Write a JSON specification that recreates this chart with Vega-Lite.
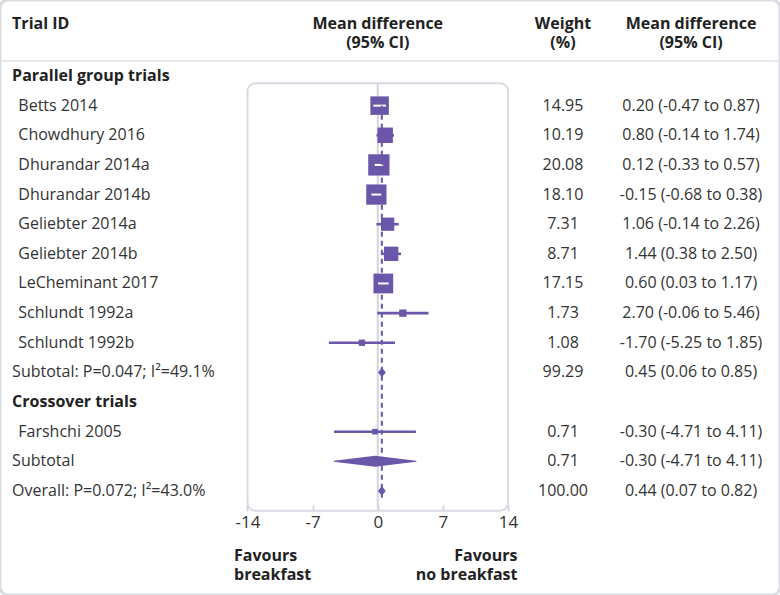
{
  "$schema": "https://vega.github.io/schema/vega-lite/v6.json",
  "width": 780,
  "height": 595,
  "autosize": {"type": "none"},
  "padding": 0,
  "background": "white",
  "config": {
    "view": {"stroke": "#d9dce1", "strokeWidth": 3, "cornerRadius": 8},
    "text": {"font": "Open Sans", "fontSize": 16, "color": "#333333"}
  },
  "resolve": {"axis": {"x": "independent", "y": "independent"}},
  "datasets": {
    "trials": [
      {"name": "Parallel group trials", "kind": "group", "r": 0},
      {"name": "Betts 2014", "kind": "study", "r": 1, "md": 0.20, "lo": -0.47, "hi": 0.87, "w": 14.95, "ci": "0.20 (-0.47 to 0.87)"},
      {"name": "Chowdhury 2016", "kind": "study", "r": 2, "md": 0.80, "lo": -0.14, "hi": 1.74, "w": 10.19, "ci": "0.80 (-0.14 to 1.74)"},
      {"name": "Dhurandar 2014a", "kind": "study", "r": 3, "md": 0.12, "lo": -0.33, "hi": 0.57, "w": 20.08, "ci": "0.12 (-0.33 to 0.57)"},
      {"name": "Dhurandar 2014b", "kind": "study", "r": 4, "md": -0.15, "lo": -0.68, "hi": 0.38, "w": 18.10, "ci": "-0.15 (-0.68 to 0.38)"},
      {"name": "Geliebter 2014a", "kind": "study", "r": 5, "md": 1.06, "lo": -0.14, "hi": 2.26, "w": 7.31, "ci": "1.06 (-0.14 to 2.26)"},
      {"name": "Geliebter 2014b", "kind": "study", "r": 6, "md": 1.44, "lo": 0.38, "hi": 2.50, "w": 8.71, "ci": "1.44 (0.38 to 2.50)"},
      {"name": "LeCheminant 2017", "kind": "study", "r": 7, "md": 0.60, "lo": 0.03, "hi": 1.17, "w": 17.15, "ci": "0.60 (0.03 to 1.17)"},
      {"name": "Schlundt 1992a", "kind": "study", "r": 8, "md": 2.70, "lo": -0.06, "hi": 5.46, "w": 1.73, "ci": "2.70 (-0.06 to 5.46)"},
      {"name": "Schlundt 1992b", "kind": "study", "r": 9, "md": -1.70, "lo": -5.25, "hi": 1.85, "w": 1.08, "ci": "-1.70 (-5.25 to 1.85)"},
      {"name": "Subtotal: P=0.047; I²=49.1%", "kind": "pooled", "r": 10, "md": 0.45, "lo": 0.06, "hi": 0.85, "w": 99.29, "ci": "0.45 (0.06 to 0.85)"},
      {"name": "Crossover trials", "kind": "group", "r": 11},
      {"name": "Farshchi 2005", "kind": "study", "r": 12, "md": -0.30, "lo": -4.71, "hi": 4.11, "w": 0.71, "ci": "-0.30 (-4.71 to 4.11)"},
      {"name": "Subtotal", "kind": "pooled", "r": 13, "md": -0.30, "lo": -4.71, "hi": 4.11, "w": 0.71, "ci": "-0.30 (-4.71 to 4.11)"},
      {"name": "Overall: P=0.072; I²=43.0%", "kind": "overall", "r": 14, "md": 0.44, "lo": 0.07, "hi": 0.82, "w": 100.00, "ci": "0.44 (0.07 to 0.82)"}
    ]
  },
  "data": {"name": "trials"},
  "layer": [
    {
      "data": {"values": [{}]},
      "mark": {"type": "rule", "color": "#dfe1e6", "strokeWidth": 1.5},
      "encoding": {
        "x": {"datum": -40.601, "type": "quantitative", "scale": {"domain": [-40.601, 43.234], "nice": false, "zero": false}, "axis": null},
        "x2": {"datum": 43.234},
        "y": {"datum": -0.506, "type": "quantitative", "scale": {"domain": [-2.564, 17.51], "reverse": true, "nice": false, "zero": false}, "axis": null}
      }
    },
    {
      "data": {"values": [{}]},
      "mark": {"type": "rect", "fill": "transparent", "stroke": "#d9dbe2", "strokeWidth": 2, "cornerRadius": 8},
      "encoding": {
        "x": {"datum": -14, "type": "quantitative", "scale": {"domain": [-40.601, 43.234], "nice": false, "zero": false}, "axis": null},
        "x2": {"datum": 14},
        "y": {"datum": 0.246, "type": "quantitative", "scale": {"domain": [-2.564, 17.51], "reverse": true, "nice": false, "zero": false}, "axis": null},
        "y2": {"datum": 14.666}
      }
    },
    {
      "data": {"values": [{}]},
      "mark": {"type": "rule", "color": "#d3d6de", "strokeWidth": 2},
      "encoding": {
        "x": {"datum": 0, "type": "quantitative", "scale": {"domain": [-40.601, 43.234], "nice": false, "zero": false}, "axis": null},
        "y": {"datum": 0.246, "type": "quantitative", "scale": {"domain": [-2.564, 17.51], "reverse": true, "nice": false, "zero": false}, "axis": null},
        "y2": {"datum": 14.666}
      }
    },
    {
      "transform": [{"filter": "datum.kind == 'study'"}],
      "mark": {"type": "rule", "color": "#6b57a9", "strokeWidth": 2.6},
      "encoding": {
        "x": {"field": "lo", "type": "quantitative", "scale": {"domain": [-40.601, 43.234], "nice": false, "zero": false},
          "axis": {"values": [-14, -7, 0, 7, 14], "labelExpr": "'' + datum.value", "title": null, "grid": false, "domain": false, "ticks": true, "tickSize": -6, "tickColor": "#d3d6de", "tickWidth": 2, "labelFontSize": 17, "labelFont": "Open Sans", "labelColor": "#333333", "labelPadding": 10, "labelFlush": false, "offset": -84.3, "orient": "bottom", "zindex": 1}},
        "x2": {"field": "hi"},
        "y": {"field": "r", "type": "quantitative", "scale": {"domain": [-2.564, 17.51], "reverse": true, "nice": false, "zero": false}, "axis": null}
      }
    },
    {
      "transform": [{"filter": "datum.kind == 'study'"}],
      "mark": {"type": "point", "shape": "square", "filled": true, "opacity": 1, "color": "#6b57a9"},
      "encoding": {
        "x": {"field": "md", "type": "quantitative", "scale": {"domain": [-40.601, 43.234], "nice": false, "zero": false}, "axis": null},
        "y": {"field": "r", "type": "quantitative", "scale": {"domain": [-2.564, 17.51], "reverse": true, "nice": false, "zero": false}, "axis": null},
        "size": {"field": "w", "type": "quantitative", "scale": {"domain": [0.71, 20.08], "range": [32, 454], "zero": false}, "legend": null}
      }
    },
    {
      "transform": [{"filter": "datum.kind == 'study' && datum.w > 14"}],
      "mark": {"type": "rule", "color": "white", "strokeWidth": 2},
      "encoding": {
        "x": {"field": "lo", "type": "quantitative", "scale": {"domain": [-40.601, 43.234], "nice": false, "zero": false}, "axis": null},
        "x2": {"field": "hi"},
        "y": {"field": "r", "type": "quantitative", "scale": {"domain": [-2.564, 17.51], "reverse": true, "nice": false, "zero": false}, "axis": null}
      }
    },
    {
      "transform": [{"filter": "datum.kind == 'overall'"}],
      "mark": {"type": "rule", "color": "#6b57a9", "strokeWidth": 2, "strokeDash": [5, 4]},
      "encoding": {
        "x": {"field": "md", "type": "quantitative", "scale": {"domain": [-40.601, 43.234], "nice": false, "zero": false}, "axis": null},
        "y": {"datum": 1, "type": "quantitative", "scale": {"domain": [-2.564, 17.51], "reverse": true, "nice": false, "zero": false}, "axis": null},
        "y2": {"datum": 14.3}
      }
    },
    {
      "transform": [
        {"filter": "(datum.kind == 'pooled' || datum.kind == 'overall') && datum.hi - datum.lo >= 2"},
        {"fold": ["lo", "md", "hi"], "as": ["k", "v"]}
      ],
      "mark": {"type": "trail", "color": "#6b57a9"},
      "encoding": {
        "x": {"field": "v", "type": "quantitative", "scale": {"domain": [-40.601, 43.234], "nice": false, "zero": false}, "axis": null},
        "y": {"field": "r", "type": "quantitative", "scale": {"domain": [-2.564, 17.51], "reverse": true, "nice": false, "zero": false}, "axis": null},
        "detail": {"field": "name", "type": "nominal"},
        "size": {"condition": {"test": "datum.k == 'md'", "value": 11}, "value": 0}
      }
    },
    {
      "transform": [{"filter": "(datum.kind == 'pooled' || datum.kind == 'overall') && datum.hi - datum.lo < 2"}],
      "mark": {"type": "point", "shape": "M-0.8,0L0,-1L0.8,0L0,1Z", "filled": true, "opacity": 1, "size": 95, "color": "#6b57a9"},
      "encoding": {
        "x": {"field": "md", "type": "quantitative", "scale": {"domain": [-40.601, 43.234], "nice": false, "zero": false}, "axis": null},
        "y": {"field": "r", "type": "quantitative", "scale": {"domain": [-2.564, 17.51], "reverse": true, "nice": false, "zero": false}, "axis": null}
      }
    },
    {
      "transform": [{"filter": "datum.kind == 'group'"}],
      "mark": {"type": "text", "align": "left", "baseline": "middle", "fontWeight": "bold", "color": "#222222"},
      "encoding": {
        "x": {"datum": -39.3, "type": "quantitative", "scale": {"domain": [-40.601, 43.234], "nice": false, "zero": false}, "axis": null},
        "y": {"field": "r", "type": "quantitative", "scale": {"domain": [-2.564, 17.51], "reverse": true, "nice": false, "zero": false}, "axis": null},
        "text": {"field": "name"}
      }
    },
    {
      "transform": [{"filter": "datum.kind == 'pooled' || datum.kind == 'overall'"}],
      "mark": {"type": "text", "align": "left", "baseline": "middle"},
      "encoding": {
        "x": {"datum": -39.3, "type": "quantitative", "scale": {"domain": [-40.601, 43.234], "nice": false, "zero": false}, "axis": null},
        "y": {"field": "r", "type": "quantitative", "scale": {"domain": [-2.564, 17.51], "reverse": true, "nice": false, "zero": false}, "axis": null},
        "text": {"field": "name"}
      }
    },
    {
      "transform": [{"filter": "datum.kind == 'study'"}],
      "mark": {"type": "text", "align": "left", "baseline": "middle"},
      "encoding": {
        "x": {"datum": -38.633, "type": "quantitative", "scale": {"domain": [-40.601, 43.234], "nice": false, "zero": false}, "axis": null},
        "y": {"field": "r", "type": "quantitative", "scale": {"domain": [-2.564, 17.51], "reverse": true, "nice": false, "zero": false}, "axis": null},
        "text": {"field": "name"}
      }
    },
    {
      "transform": [{"filter": "datum.kind != 'group'"}],
      "mark": {"type": "text", "align": "center", "baseline": "middle"},
      "encoding": {
        "x": {"datum": 19.91, "type": "quantitative", "scale": {"domain": [-40.601, 43.234], "nice": false, "zero": false}, "axis": null},
        "y": {"field": "r", "type": "quantitative", "scale": {"domain": [-2.564, 17.51], "reverse": true, "nice": false, "zero": false}, "axis": null},
        "text": {"field": "w", "type": "quantitative", "format": ".2f"}
      }
    },
    {
      "transform": [{"filter": "datum.kind != 'group'"}],
      "mark": {"type": "text", "align": "center", "baseline": "middle"},
      "encoding": {
        "x": {"datum": 33.67, "type": "quantitative", "scale": {"domain": [-40.601, 43.234], "nice": false, "zero": false}, "axis": null},
        "y": {"field": "r", "type": "quantitative", "scale": {"domain": [-2.564, 17.51], "reverse": true, "nice": false, "zero": false}, "axis": null},
        "text": {"field": "ci"}
      }
    },
    {
      "data": {"values": [{}]},
      "mark": {"type": "text", "align": "left", "baseline": "middle", "fontWeight": "bold", "color": "#222222"},
      "encoding": {
        "x": {"datum": -39.3, "type": "quantitative", "scale": {"domain": [-40.601, 43.234], "nice": false, "zero": false}, "axis": null},
        "y": {"datum": -1.74, "type": "quantitative", "scale": {"domain": [-2.564, 17.51], "reverse": true, "nice": false, "zero": false}, "axis": null},
        "text": {"value": "Trial ID"}
      }
    },
    {
      "data": {"values": [{}]},
      "mark": {"type": "text", "align": "center", "baseline": "middle", "fontWeight": "bold", "color": "#222222"},
      "encoding": {
        "x": {"datum": 0, "type": "quantitative", "scale": {"domain": [-40.601, 43.234], "nice": false, "zero": false}, "axis": null},
        "y": {"datum": -1.76, "type": "quantitative", "scale": {"domain": [-2.564, 17.51], "reverse": true, "nice": false, "zero": false}, "axis": null},
        "text": {"value": "Mean difference"}
      }
    },
    {
      "data": {"values": [{}]},
      "mark": {"type": "text", "align": "center", "baseline": "middle", "fontWeight": "bold", "color": "#222222"},
      "encoding": {
        "x": {"datum": 0, "type": "quantitative", "scale": {"domain": [-40.601, 43.234], "nice": false, "zero": false}, "axis": null},
        "y": {"datum": -1.112, "type": "quantitative", "scale": {"domain": [-2.564, 17.51], "reverse": true, "nice": false, "zero": false}, "axis": null},
        "text": {"value": "(95% CI)"}
      }
    },
    {
      "data": {"values": [{}]},
      "mark": {"type": "text", "align": "center", "baseline": "middle", "fontWeight": "bold", "color": "#222222"},
      "encoding": {
        "x": {"datum": 19.91, "type": "quantitative", "scale": {"domain": [-40.601, 43.234], "nice": false, "zero": false}, "axis": null},
        "y": {"datum": -1.76, "type": "quantitative", "scale": {"domain": [-2.564, 17.51], "reverse": true, "nice": false, "zero": false}, "axis": null},
        "text": {"value": "Weight"}
      }
    },
    {
      "data": {"values": [{}]},
      "mark": {"type": "text", "align": "center", "baseline": "middle", "fontWeight": "bold", "color": "#222222"},
      "encoding": {
        "x": {"datum": 19.91, "type": "quantitative", "scale": {"domain": [-40.601, 43.234], "nice": false, "zero": false}, "axis": null},
        "y": {"datum": -1.112, "type": "quantitative", "scale": {"domain": [-2.564, 17.51], "reverse": true, "nice": false, "zero": false}, "axis": null},
        "text": {"value": "(%)"}
      }
    },
    {
      "data": {"values": [{}]},
      "mark": {"type": "text", "align": "center", "baseline": "middle", "fontWeight": "bold", "color": "#222222"},
      "encoding": {
        "x": {"datum": 33.67, "type": "quantitative", "scale": {"domain": [-40.601, 43.234], "nice": false, "zero": false}, "axis": null},
        "y": {"datum": -1.76, "type": "quantitative", "scale": {"domain": [-2.564, 17.51], "reverse": true, "nice": false, "zero": false}, "axis": null},
        "text": {"value": "Mean difference"}
      }
    },
    {
      "data": {"values": [{}]},
      "mark": {"type": "text", "align": "center", "baseline": "middle", "fontWeight": "bold", "color": "#222222"},
      "encoding": {
        "x": {"datum": 33.67, "type": "quantitative", "scale": {"domain": [-40.601, 43.234], "nice": false, "zero": false}, "axis": null},
        "y": {"datum": -1.112, "type": "quantitative", "scale": {"domain": [-2.564, 17.51], "reverse": true, "nice": false, "zero": false}, "axis": null},
        "text": {"value": "(95% CI)"}
      }
    },
    {
      "data": {"values": [{}]},
      "mark": {"type": "text", "align": "left", "baseline": "middle", "fontWeight": "bold", "color": "#222222"},
      "encoding": {
        "x": {"datum": -15.45, "type": "quantitative", "scale": {"domain": [-40.601, 43.234], "nice": false, "zero": false}, "axis": null},
        "y": {"datum": 16.2, "type": "quantitative", "scale": {"domain": [-2.564, 17.51], "reverse": true, "nice": false, "zero": false}, "axis": null},
        "text": {"value": "Favours"}
      }
    },
    {
      "data": {"values": [{}]},
      "mark": {"type": "text", "align": "left", "baseline": "middle", "fontWeight": "bold", "color": "#222222"},
      "encoding": {
        "x": {"datum": -15.45, "type": "quantitative", "scale": {"domain": [-40.601, 43.234], "nice": false, "zero": false}, "axis": null},
        "y": {"datum": 16.841, "type": "quantitative", "scale": {"domain": [-2.564, 17.51], "reverse": true, "nice": false, "zero": false}, "axis": null},
        "text": {"value": "breakfast"}
      }
    },
    {
      "data": {"values": [{}]},
      "mark": {"type": "text", "align": "right", "baseline": "middle", "fontWeight": "bold", "color": "#222222"},
      "encoding": {
        "x": {"datum": 15.02, "type": "quantitative", "scale": {"domain": [-40.601, 43.234], "nice": false, "zero": false}, "axis": null},
        "y": {"datum": 16.2, "type": "quantitative", "scale": {"domain": [-2.564, 17.51], "reverse": true, "nice": false, "zero": false}, "axis": null},
        "text": {"value": "Favours"}
      }
    },
    {
      "data": {"values": [{}]},
      "mark": {"type": "text", "align": "right", "baseline": "middle", "fontWeight": "bold", "color": "#222222"},
      "encoding": {
        "x": {"datum": 15.02, "type": "quantitative", "scale": {"domain": [-40.601, 43.234], "nice": false, "zero": false}, "axis": null},
        "y": {"datum": 16.841, "type": "quantitative", "scale": {"domain": [-2.564, 17.51], "reverse": true, "nice": false, "zero": false}, "axis": null},
        "text": {"value": "no breakfast"}
      }
    }
  ]
}
